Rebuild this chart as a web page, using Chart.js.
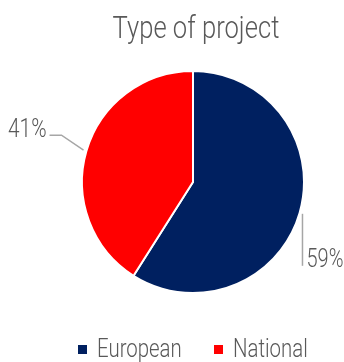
<!DOCTYPE html>
<html>
<head>
<meta charset="utf-8">
<script src="https://cdn.jsdelivr.net/npm/chart.js@4/dist/chart.umd.min.js"></script>
<style>
  html, body { margin: 0; padding: 0; background: #ffffff; }
  #wrap { width: 344px; height: 362px; }
</style>
</head>
<body>
<div id="wrap"><canvas id="c" width="344" height="362"></canvas></div>
<script>
// Share of projects by type
const categories = ['European', 'National'];
const shares = [59, 41];
const sliceColors = ['#002060', '#FF0000'];
const chartTitle = 'Type of project';

const FONT = "Roboto, 'DejaVu Sans', sans-serif";
const TEXT = '#595959';
const SQUEEZE = 0.8; // horizontal squeeze giving a condensed face

// Draw text horizontally condensed; align is 'left' | 'right' | 'center'
function condensedText(ctx, text, x, y, size, align) {
  ctx.save();
  ctx.font = '300 ' + size + 'px ' + FONT;
  ctx.textBaseline = 'alphabetic';
  ctx.textAlign = 'left';
  const w = ctx.measureText(text).width * SQUEEZE;
  let left = x;
  if (align === 'right') left = x - w;
  else if (align === 'center') left = x - w / 2;
  ctx.translate(left, y);
  ctx.scale(SQUEEZE, 1);
  ctx.fillText(text, 0, 0);
  ctx.restore();
  return w;
}

// Title, legend and outside labels with grey leader lines
const decorations = {
  id: 'decorations',
  afterDatasetsDraw(chart) {
    const ctx = chart.ctx;
    const meta = chart.getDatasetMeta(0);
    ctx.save();
    ctx.fillStyle = TEXT;

    // title
    condensedText(ctx, chartTitle, 196, 38, 32, 'center');

    // slice labels
    ctx.strokeStyle = '#A6A6A6';
    ctx.lineWidth = 1.5;
    meta.data.forEach((arc, i) => {
      const p = arc.getProps(['x', 'y', 'startAngle', 'endAngle', 'outerRadius'], true);
      const mid = (p.startAngle + p.endAngle) / 2;
      const r = p.outerRadius + 3;
      const sx = p.x + Math.cos(mid) * r;
      const sy = p.y + Math.sin(mid) * r;
      const text = shares[i] + '%';
      ctx.beginPath();
      if (Math.cos(mid) < 0) {
        const ex = sx - 22, ey = sy - 15;
        ctx.moveTo(sx, sy);
        ctx.lineTo(ex, ey);
        ctx.lineTo(ex - 12, ey);
        ctx.stroke();
        condensedText(ctx, text, ex - 15, ey + 2, 26, 'right');
      } else {
        ctx.moveTo(sx, sy);
        ctx.lineTo(sx, sy + 52);
        ctx.stroke();
        condensedText(ctx, text, sx + 4, sy + 53, 25, 'left');
      }
    });

    // legend
    const legendX = [78, 214];
    categories.forEach((c, i) => {
      ctx.fillStyle = sliceColors[i];
      ctx.fillRect(legendX[i], 345, 9, 9);
      ctx.fillStyle = TEXT;
      condensedText(ctx, c, legendX[i] + 19, 357, 25.5, 'left');
    });
    ctx.restore();
  }
};

new Chart(document.getElementById('c'), {
  type: 'pie',
  data: {
    labels: categories,
    datasets: [{
      data: shares,
      backgroundColor: sliceColors,
      borderColor: '#ffffff',
      borderWidth: 2
    }]
  },
  options: {
    responsive: false,
    animation: false,
    layout: { padding: { left: 42, right: 0, top: 70, bottom: 68 } },
    plugins: {
      title: { display: false },
      legend: { display: false },
      tooltip: { enabled: false }
    }
  },
  plugins: [decorations]
});
</script>
</body>
</html>
